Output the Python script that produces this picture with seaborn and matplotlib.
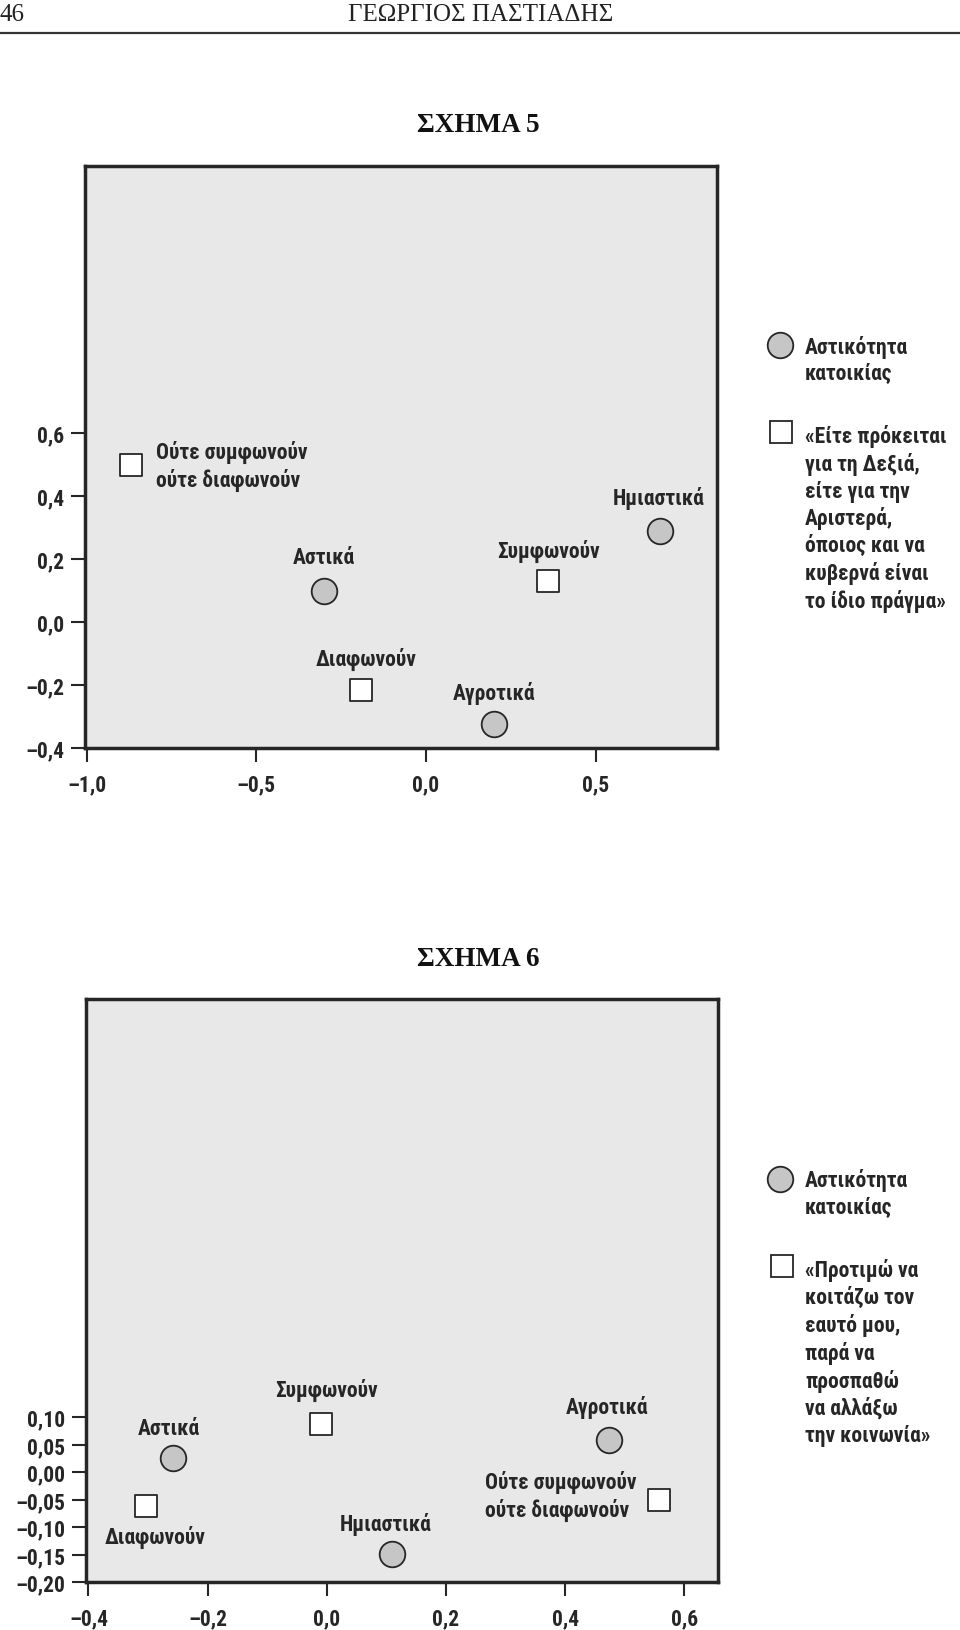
import os
import numpy as np
import pandas as pd
import matplotlib
matplotlib.use("Agg")
import matplotlib.pyplot as plt
from matplotlib import font_manager as fm
from matplotlib.lines import Line2D
from matplotlib.ticker import FixedLocator, FuncFormatter
import seaborn as sns

# ---------------- data ----------------
# Chart 5
c5_labels = ["Αστικά", "Ημιαστικά", "Αγροτικά",
             "Συμφωνούν", "Ούτε συμφωνούν\nούτε διαφωνούν", "Διαφωνούν"]
c5_group = ["urb", "urb", "urb", "att", "att", "att"]
c5_x = [-0.30, 0.69, 0.20, 0.36, -0.87, -0.19]
c5_y = [0.097, 0.288, -0.325, 0.130, 0.498, -0.216]
c5_xticks = [-1.0, -0.5, 0.0, 0.5]
c5_yticks = [-0.4, -0.2, 0.0, 0.2, 0.4, 0.6]

# Chart 6
c6_labels = ["Αστικά", "Ημιαστικά", "Αγροτικά",
             "Συμφωνούν", "Ούτε συμφωνούν\nούτε διαφωνούν", "Διαφωνούν"]
c6_group = ["urb", "urb", "urb", "att", "att", "att"]
c6_x = [-0.258, 0.110, 0.474, -0.010, 0.557, -0.303]
c6_y = [0.0255, -0.148, 0.059, 0.088, -0.050, -0.061]
c6_xticks = [-0.4, -0.2, 0.0, 0.2, 0.4, 0.6]
c6_yticks = [-0.20, -0.15, -0.10, -0.05, 0.00, 0.05, 0.10]

legend_urb = "Αστικότητα\nκατοικίας"
legend5_att = ("«Είτε πρόκειται\nγια τη Δεξιά,\nείτε για την\nΑριστερά,\n"
               "όποιος και να\nκυβερνά είναι\nτο ίδιο πράγμα»")
legend6_att = ("«Προτιμώ να\nκοιτάζω τον\nεαυτό μου,\nπαρά να\nπροσπαθώ\n"
               "να αλλάξω\nτην κοινωνία»")

# ---------------- style ----------------
sns.set_style("ticks")

# choose a condensed sans family if one is installed
_files = {os.path.basename(f.fname).lower(): f for f in fm.fontManager.ttflist}
SANS_NAME, STRETCH, FS = "Roboto", "normal", 14.5
for base, name, stretch, size in [
        ("liberationsansnarrow-bold.ttf", "Liberation Sans Narrow", "normal", 15.5),
        ("robotocondensed-bold.ttf", "Roboto Condensed", "normal", 15.5),
        ("dejavusanscondensed-bold.ttf", "DejaVu Sans", "condensed", 14.0),
        ("notosans-condensedbold.ttf", "Noto Sans", "condensed", 14.5)]:
    if base in _files:
        SANS_NAME, STRETCH, FS = name, stretch, size
        break

SANS = [SANS_NAME, "DejaVu Sans"]
SERIF = ["Liberation Serif", "DejaVu Serif"]
plt.rcParams["font.family"] = SANS
plt.rcParams["font.stretch"] = STRETCH
INK = "#262626"
LS = 1.27

W, H = 960, 1631
fig = plt.figure(figsize=(W / 100, H / 100), dpi=100)

def fx(px):
    return px / W

def fy(py):
    return 1 - py / H

def make_fmt(dec):
    def f(v, pos):
        s = f"{abs(v):.{dec}f}".replace(".", ",")
        return ("–" if v < -1e-9 else "") + s
    return FuncFormatter(f)

def style_ax(ax, xlim, ylim, xt, yt, xdec, ydec):
    ax.set_facecolor("#e8e8e8")
    ax.set_xlim(*xlim)
    ax.set_ylim(*ylim)
    for sp in ax.spines.values():
        sp.set_visible(True)
        sp.set_color(INK)
        sp.set_linewidth(2.5)
    ax.xaxis.set_major_locator(FixedLocator(xt))
    ax.yaxis.set_major_locator(FixedLocator(yt))
    ax.xaxis.set_major_formatter(make_fmt(xdec))
    ax.yaxis.set_major_formatter(make_fmt(ydec))
    ax.tick_params(axis="both", direction="out", length=10, width=1.5,
                   color=INK, labelcolor=INK, labelsize=FS, pad=5)
    ax.tick_params(axis="x", pad=8)
    for lab in ax.get_xticklabels() + ax.get_yticklabels():
        lab.set_fontweight("bold")
    ax.set_xlabel("")
    ax.set_ylabel("")

def draw_points(ax, labels, groups, xs, ys):
    df = pd.DataFrame({"label": labels, "group": groups, "x": xs, "y": ys})
    u = df[df.group == "urb"]
    a = df[df.group == "att"]
    sns.scatterplot(data=u, x="x", y="y", ax=ax, marker="o", s=340,
                    color="#c6c6c6", edgecolor=INK, linewidth=1.3, zorder=3)
    sns.scatterplot(data=a, x="x", y="y", ax=ax, marker="s", s=250,
                    color="white", edgecolor=INK, linewidth=1.3, zorder=3)

def label(ax, text, x, y, dx, dy, ha="center", va="center"):
    ax.annotate(text, (x, y), xytext=(dx, dy), textcoords="offset points",
                ha=ha, va=va, fontsize=FS, fontweight="bold", color=INK,
                linespacing=LS, multialignment="left")

# ---------------- header ----------------
fig.text(fx(0), fy(15), "46", ha="left", va="center", family=SERIF,
         fontsize=18, color="#222")
fig.text(fx(481), fy(15), "ΓΕΩΡΓΙΟΣ ΠΑΣΤΙΑΔΗΣ", ha="center", va="center",
         family=SERIF, fontsize=18, color="#222")
fig.add_artist(Line2D([0, 1], [fy(33.5), fy(33.5)], transform=fig.transFigure,
                      color="#333", lw=1.6))

# ---------------- chart 5 ----------------
fig.text(fx(478), fy(126), "ΣΧΗΜΑ 5", ha="center", va="center",
         family=SERIF, fontsize=19.5, fontweight="bold", color="#111")
ax5 = fig.add_axes([fx(85), fy(749), (717 - 85) / W, (749 - 166.7) / H])
draw_points(ax5, c5_labels, c5_group, c5_x, c5_y)
style_ax(ax5, (-1.005, 0.858), (-0.4, 1.448), c5_xticks, c5_yticks, 1, 1)
c5_off = [(0, 25), (-1, 24.5), (0, 23), (0.5, 22), (18, 0), (3, 23)]
for t, x, y, (dx, dy) in zip(c5_labels, c5_x, c5_y, c5_off):
    if "\n" in t:
        label(ax5, t, x, y, dx, dy, ha="left")
    else:
        label(ax5, t, x, y, dx, dy)

# legend 5
fig.add_artist(Line2D([fx(780)], [fy(346)], transform=fig.transFigure,
                      marker="o", markersize=18.4, markerfacecolor="#c6c6c6",
                      markeredgecolor=INK, markeredgewidth=1.3, ls="none"))
fig.text(fx(805), fy((346 + 375) / 2), legend_urb, ha="left", va="center",
         fontsize=FS, fontweight="bold", color=INK, linespacing=LS)
fig.add_artist(Line2D([fx(781)], [fy(433)], transform=fig.transFigure,
                      marker="s", markersize=15.8, markerfacecolor="white",
                      markeredgecolor=INK, markeredgewidth=1.3, ls="none"))
fig.text(fx(805), fy((433 + 605) / 2), legend5_att, ha="left", va="center",
         fontsize=FS, fontweight="bold", color=INK, linespacing=LS)

# ---------------- chart 6 ----------------
fig.text(fx(478), fy(960), "ΣΧΗΜΑ 6", ha="center", va="center",
         family=SERIF, fontsize=19.5, fontweight="bold", color="#111")
ax6 = fig.add_axes([fx(86), fy(1583.3), (717.6 - 86) / W, (1583.3 - 1000) / H])
draw_points(ax6, c6_labels, c6_group, c6_x, c6_y)
style_ax(ax6, (-0.404, 0.656), (-0.2, 0.8605), c6_xticks, c6_yticks, 1, 2)
c6_off = [(-2.7, 22), (-4.7, 21.6), (-1.7, 24), (4.3, 24.5), (-16, 3), (6.7, -22)]
for t, x, y, (dx, dy) in zip(c6_labels, c6_x, c6_y, c6_off):
    if "\n" in t:
        label(ax6, t, x, y, dx, dy, ha="right")
    else:
        label(ax6, t, x, y, dx, dy)

# legend 6
fig.add_artist(Line2D([fx(780)], [fy(1179.5)], transform=fig.transFigure,
                      marker="o", markersize=18.4, markerfacecolor="#c6c6c6",
                      markeredgecolor=INK, markeredgewidth=1.3, ls="none"))
fig.text(fx(805), fy((1179 + 1208.5) / 2), legend_urb, ha="left", va="center",
         fontsize=FS, fontweight="bold", color=INK, linespacing=LS)
fig.add_artist(Line2D([fx(781.5)], [fy(1267)], transform=fig.transFigure,
                      marker="s", markersize=15.8, markerfacecolor="white",
                      markeredgecolor=INK, markeredgewidth=1.3, ls="none"))
fig.text(fx(805), fy((1268 + 1438) / 2), legend6_att, ha="left", va="center",
         fontsize=FS, fontweight="bold", color=INK, linespacing=LS)

fig.savefig("out.png", dpi=100)
